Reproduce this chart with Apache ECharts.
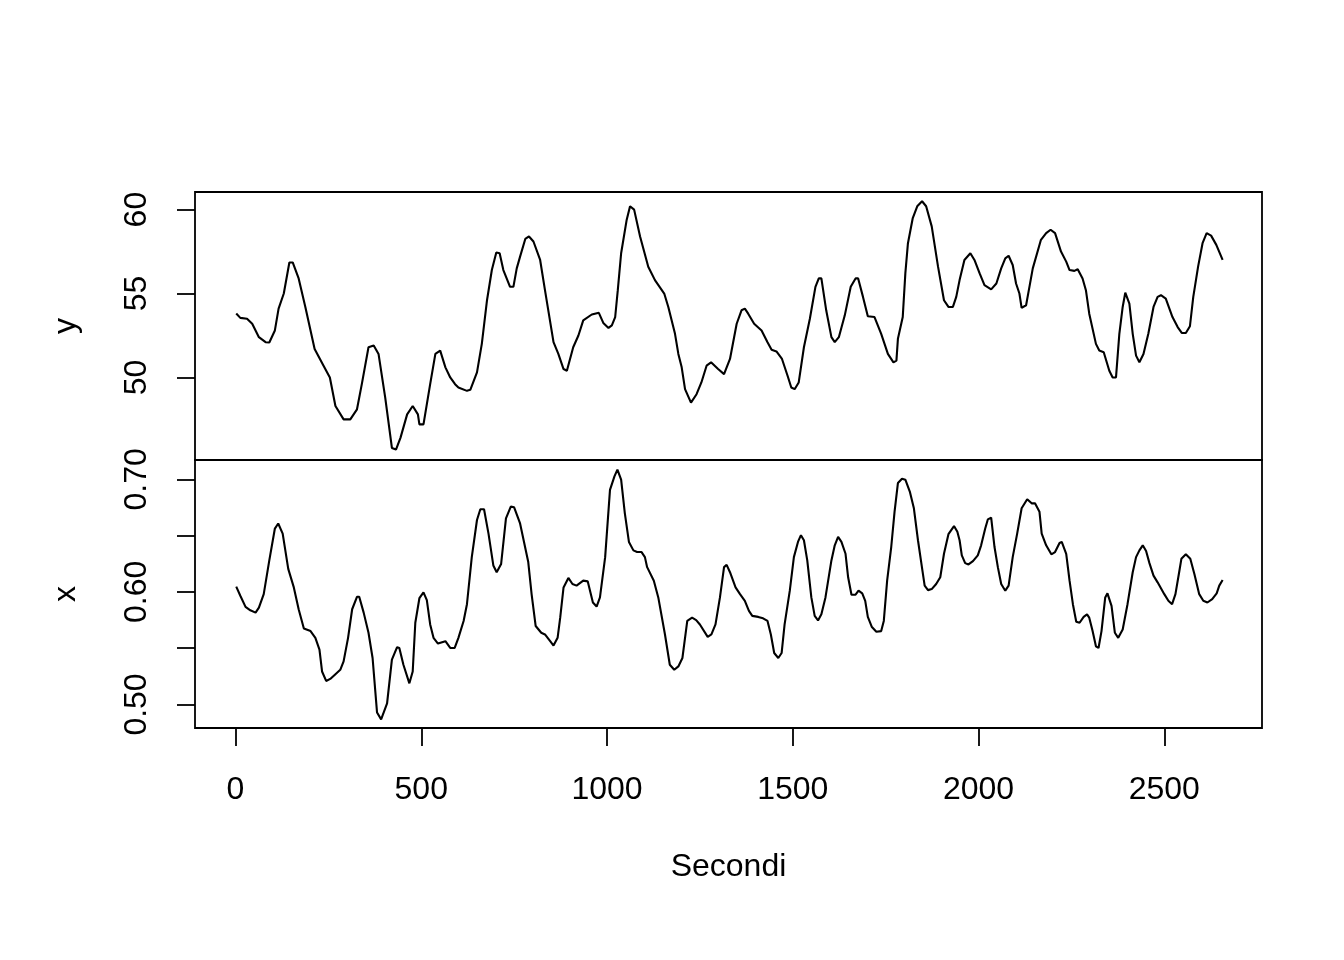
<!DOCTYPE html>
<html><head><meta charset="utf-8">
<script src="https://cdn.jsdelivr.net/npm/echarts@6/dist/echarts.min.js"></script>
<style>html,body{margin:0;padding:0;background:#fff}#c{width:1344px;height:960px}</style>
</head><body><div id="c"></div>
<script>
// Top panel: series "y" (seconds, value)
const yTime = [2,13,31,45,63,81,91,106,116,130,145,154,170,188,213,237,254,269,291,309,327,340,358,372,385,403,421,432,444,462,477,491,495,506,524,538,551,565,578,591,600,623,632,650,663,677,690,702,711,721,739,748,757,766,780,790,802,820,833,856,869,883,892,909,923,936,959,978,990,1004,1013,1022,1029,1038,1053,1062,1073,1089,1111,1129,1154,1165,1183,1192,1201,1210,1226,1241,1254,1268,1280,1299,1315,1331,1349,1362,1371,1380,1396,1416,1432,1443,1456,1471,1486,1496,1505,1516,1530,1546,1561,1570,1577,1590,1604,1613,1624,1640,1656,1669,1676,1689,1702,1720,1738,1756,1771,1779,1783,1796,1803,1810,1823,1835,1848,1859,1874,1891,1907,1919,1931,1940,1949,1962,1978,1989,2003,2016,2034,2048,2061,2072,2081,2092,2101,2110,2116,2128,2137,2146,2168,2182,2194,2206,2222,2236,2245,2258,2267,2280,2289,2298,2316,2325,2337,2352,2361,2370,2379,2388,2395,2406,2415,2424,2433,2444,2457,2471,2482,2491,2504,2522,2536,2547,2558,2569,2578,2591,2603,2614,2626,2640,2657];
const yValues = [53.81,53.55,53.5,53.2,52.4,52.1,52.08,52.8,54.1,55.0,56.85,56.85,55.9,54.2,51.7,50.7,50.0,48.3,47.5,47.5,48.1,49.6,51.8,51.9,51.4,48.8,45.8,45.7,46.4,47.8,48.3,47.8,47.2,47.2,49.6,51.4,51.6,50.6,50.0,49.6,49.4,49.2,49.26,50.3,52.0,54.6,56.4,57.45,57.4,56.4,55.4,55.4,56.5,57.2,58.25,58.4,58.1,57.0,55.2,52.1,51.4,50.5,50.4,51.8,52.5,53.4,53.75,53.85,53.25,52.95,53.1,53.6,55.2,57.4,59.4,60.2,60.0,58.4,56.6,55.8,55.0,54.2,52.6,51.4,50.6,49.3,48.5,49.0,49.7,50.7,50.9,50.5,50.2,51.1,53.2,54.0,54.1,53.8,53.2,52.8,52.1,51.65,51.55,51.1,50.1,49.4,49.3,49.7,51.8,53.5,55.4,55.9,55.9,54.0,52.4,52.1,52.4,53.7,55.4,55.9,55.9,54.8,53.65,53.6,52.6,51.4,50.9,51.0,52.3,53.6,56.2,58.0,59.5,60.2,60.5,60.2,59.0,56.6,54.6,54.2,54.2,54.8,55.8,57.0,57.4,57.0,56.2,55.5,55.25,55.6,56.5,57.1,57.25,56.7,55.6,55.0,54.15,54.3,55.4,56.5,58.2,58.6,58.8,58.6,57.5,56.9,56.4,56.35,56.45,55.9,55.2,53.8,52.0,51.6,51.5,50.4,50.0,50.0,52.6,54.2,55.05,54.4,52.6,51.3,50.9,51.4,52.6,54.2,54.8,54.9,54.7,53.6,53.0,52.65,52.65,53.05,54.8,56.6,58.0,58.6,58.45,57.9,57.0];

// Bottom panel: series "x" (seconds, value)
const xTime = [2,13,27,40,54,63,76,91,106,115,127,142,157,170,184,202,215,226,233,244,255,269,282,291,303,314,327,333,345,358,369,381,392,408,421,435,441,452,468,477,484,495,506,515,524,533,545,565,578,590,600,614,623,636,650,659,669,681,694,703,715,728,741,750,766,788,797,808,823,833,847,856,867,874,883,896,907,918,936,948,962,972,981,995,1008,1020,1028,1038,1048,1059,1071,1081,1093,1102,1108,1126,1138,1156,1169,1181,1192,1203,1216,1229,1240,1250,1271,1281,1292,1304,1315,1322,1331,1346,1358,1371,1382,1391,1407,1420,1432,1441,1450,1461,1470,1478,1492,1503,1514,1522,1530,1539,1550,1559,1568,1577,1588,1604,1613,1622,1631,1642,1649,1658,1669,1677,1687,1695,1702,1713,1725,1738,1745,1754,1765,1774,1783,1794,1803,1815,1826,1837,1849,1855,1864,1874,1886,1897,1907,1919,1934,1943,1949,1955,1964,1973,1985,1998,2007,2018,2025,2034,2043,2052,2061,2072,2081,2092,2104,2116,2131,2143,2152,2164,2170,2182,2196,2206,2218,2224,2236,2245,2254,2263,2272,2283,2292,2298,2307,2316,2323,2331,2341,2347,2358,2367,2376,2388,2401,2415,2424,2433,2442,2451,2460,2471,2482,2500,2511,2521,2530,2540,2546,2558,2570,2581,2594,2605,2616,2629,2641,2648,2657];
const xValues = [0.6047,0.5966,0.5867,0.5837,0.5816,0.5861,0.598,0.628,0.6563,0.6608,0.6518,0.6205,0.604,0.5846,0.5675,0.5652,0.5592,0.5487,0.5293,0.5209,0.5227,0.5269,0.5308,0.5383,0.5592,0.5846,0.5957,0.5957,0.5816,0.5637,0.5413,0.4928,0.4868,0.5009,0.5398,0.5509,0.5502,0.5353,0.5188,0.5293,0.5726,0.5944,0.5996,0.5927,0.5711,0.5592,0.5541,0.5562,0.5502,0.5502,0.5592,0.5742,0.5891,0.6309,0.6639,0.6734,0.6734,0.6518,0.6235,0.6175,0.6249,0.6653,0.6758,0.6752,0.6608,0.6265,0.598,0.5697,0.5637,0.5622,0.5562,0.5523,0.5592,0.5771,0.604,0.6124,0.607,0.6056,0.61,0.6094,0.5906,0.587,0.5951,0.6309,0.6907,0.7027,0.7087,0.6997,0.6698,0.6444,0.6369,0.6354,0.6354,0.6309,0.622,0.61,0.5951,0.5622,0.5353,0.5308,0.5338,0.5413,0.5742,0.5771,0.575,0.5711,0.5601,0.5622,0.5711,0.5951,0.622,0.624,0.6175,0.604,0.598,0.5921,0.5831,0.5787,0.5778,0.5765,0.5742,0.5622,0.5457,0.5413,0.5457,0.5711,0.6011,0.6309,0.6444,0.6504,0.6459,0.628,0.5951,0.5787,0.5747,0.5801,0.5951,0.628,0.6414,0.6489,0.6444,0.6339,0.613,0.5975,0.5975,0.6011,0.5987,0.5921,0.5778,0.5688,0.5646,0.5652,0.5742,0.61,0.6399,0.6713,0.6967,0.7006,0.6997,0.6892,0.6743,0.6459,0.619,0.6056,0.6016,0.6025,0.607,0.613,0.6339,0.6513,0.6585,0.6534,0.6459,0.6325,0.6256,0.6244,0.6274,0.6325,0.6414,0.6563,0.6644,0.6659,0.6399,0.622,0.607,0.6011,0.6056,0.6309,0.6518,0.6743,0.6823,0.6787,0.6787,0.6713,0.6518,0.6414,0.6334,0.6354,0.6435,0.6444,0.6339,0.61,0.5891,0.5735,0.5726,0.5778,0.5801,0.5771,0.5652,0.5517,0.5502,0.5652,0.5951,0.5987,0.5876,0.5637,0.5592,0.5666,0.5891,0.6175,0.6309,0.6369,0.6414,0.6363,0.6256,0.6145,0.6085,0.598,0.5921,0.5891,0.598,0.6175,0.6294,0.6334,0.6294,0.616,0.598,0.5921,0.5906,0.5936,0.5987,0.6056,0.6106];

const timeTicks = [0, 500, 1000, 1500, 2000, 2500];
const yTicks = [50, 55, 60];
const xTicks = [0.50, 0.55, 0.60, 0.65, 0.70];
const xTickLabels = [0.50, 0.60, 0.70];

const FONT = "'Liberation Sans', Arial, sans-serif";
const FS = 32;
const zip = (a, b) => a.map((t, i) => [t, b[i]]);

const chart = echarts.init(document.getElementById('c'), null, {renderer: 'canvas'});
const tickStyle = {show: true, length: 18, lineStyle: {color: '#000', width: 1.8}};
const labelStyle = {color: '#000', fontFamily: FONT, fontSize: FS};
const nameStyle = {color: '#000', fontFamily: FONT, fontSize: FS};

chart.setOption({
  animation: false,
  backgroundColor: '#fff',
  grid: [
    {left: 195, right: 82, top: 192, height: 268, show: true, borderColor: '#000', borderWidth: 1.8, backgroundColor: 'transparent'},
    {left: 195, right: 82, top: 460, height: 268, show: true, borderColor: '#000', borderWidth: 1.8, backgroundColor: 'transparent'}
  ],
  xAxis: [
    {type: 'value', gridIndex: 0, min: -109, max: 2763, show: false, splitLine: {show: false},
     axisLine: {show: false, onZero: false}},
    {type: 'value', gridIndex: 1, min: -109, max: 2763, position: 'bottom',
     axisLine: {show: false, onZero: false}, splitLine: {show: false},
     axisTick: Object.assign({customValues: timeTicks}, tickStyle),
     axisLabel: Object.assign({customValues: timeTicks, margin: 46, formatter: v => String(v)}, labelStyle),
     name: 'Secondi', nameLocation: 'middle', nameGap: 123, nameTextStyle: nameStyle}
  ],
  yAxis: [
    {type: 'value', gridIndex: 0, min: 45.08, max: 61.05, position: 'left',
     axisLine: {show: false, onZero: false}, splitLine: {show: false},
     axisTick: Object.assign({customValues: yTicks}, tickStyle),
     axisLabel: Object.assign({customValues: yTicks, rotate: 90, margin: 42, formatter: v => String(v)}, labelStyle),
     name: 'y', nameLocation: 'middle', nameGap: 113, nameTextStyle: nameStyle},
    {type: 'value', gridIndex: 1, min: 0.4791, max: 0.7172, position: 'left',
     axisLine: {show: false, onZero: false}, splitLine: {show: false},
     axisTick: Object.assign({customValues: xTicks}, tickStyle),
     axisLabel: Object.assign({customValues: xTickLabels, rotate: 90, margin: 42,
       formatter: v => Number(v).toFixed(2)}, labelStyle),
     name: 'x', nameLocation: 'middle', nameGap: 113, nameTextStyle: nameStyle}
  ],
  series: [
    {type: 'line', xAxisIndex: 0, yAxisIndex: 0, data: zip(yTime, yValues), showSymbol: false,
     lineStyle: {color: '#000', width: 2.1}, silent: true},
    {type: 'line', xAxisIndex: 1, yAxisIndex: 1, data: zip(xTime, xValues), showSymbol: false,
     lineStyle: {color: '#000', width: 2.1}, silent: true}
  ]
});
</script></body></html>
